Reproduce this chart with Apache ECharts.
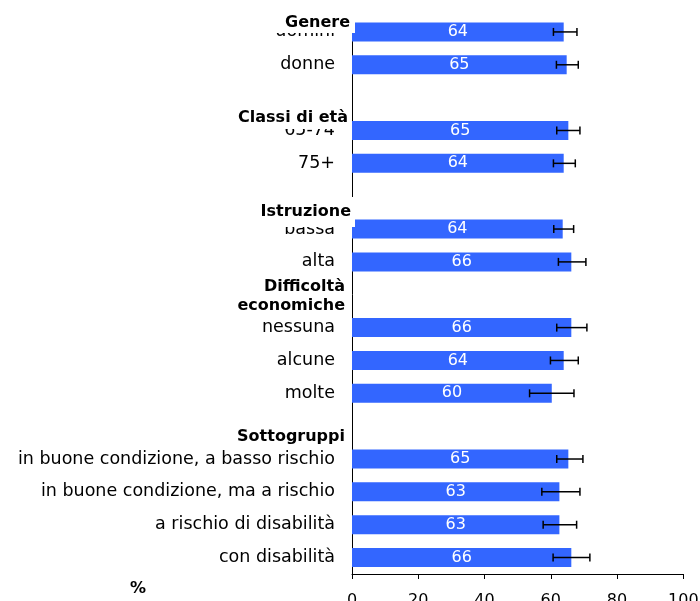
<!DOCTYPE html>
<html>
<head>
<meta charset="utf-8">
<script src="https://cdn.jsdelivr.net/npm/echarts@6/dist/echarts.min.js"></script>
<style>html,body{margin:0;padding:0;background:#fff}#c{width:700px;height:601px}</style>
</head>
<body>
<div id="c"></div>
<script>
const categories = ['uomini','donne','','65-74','75+','','bassa','alta','','nessuna','alcune','molte','',
  'in buone condizione, a basso rischio','in buone condizione, ma a rischio','a rischio di disabilità','con disabilità'];
const values = [63.9, 64.8, null, 65.3, 63.9, null, 63.6, 66.2, null, 66.2, 63.9, 60.3, null, 65.3, 62.6, 62.6, 66.2];
const ciLow  = [60.8, 61.7, null, 61.8, 60.8, null, 60.9, 62.3, null, 61.8, 59.9, 53.6, null, 61.8, 57.3, 57.7, 60.7];
const ciHigh = [67.9, 68.3, null, 68.8, 67.4, null, 66.9, 70.6, null, 70.9, 68.3, 67.0, null, 69.7, 68.8, 67.8, 71.8];
const xTicks = [0, 20, 40, 60, 80, 100];
const headers = ['Genere', 'Classi di età', 'Istruzione', 'Difficoltà\neconomiche', 'Sottogruppi'];
const unitLabel = '%';

const FONT = 'DejaVu Sans';
const chart = echarts.init(document.getElementById('c'), null, {renderer: 'canvas'});

const errData = [];
values.forEach((v, i) => { if (v != null) errData.push([ciLow[i], i, ciHigh[i]]); });

function headerText(text, x, y, pad, bg) {
  return {
    type: 'text', x: x, y: y, z: 100,
    style: {
      text: text, fill: '#000', font: 'bold 16px "' + FONT + '"',
      align: 'right', verticalAlign: 'top', lineHeight: 19.5,
      backgroundColor: bg ? '#fff' : null, padding: pad
    }
  };
}

chart.setOption({
  animation: false,
  backgroundColor: '#fff',
  grid: {left: 352, right: 16.7, top: 15.5, bottom: 27, containLabel: false, outerBoundsMode: 'none'},
  xAxis: {
    type: 'value', min: xTicks[0], max: xTicks[xTicks.length - 1], interval: 20,
    axisLine: {show: true, lineStyle: {color: '#000', width: 1}},
    axisTick: {show: true, length: 5, lineStyle: {color: '#000'}},
    axisLabel: {color: '#000', fontFamily: FONT, fontSize: 16, margin: 19},
    splitLine: {show: false}
  },
  yAxis: {
    type: 'category', inverse: true, data: categories,
    axisLine: {show: true, lineStyle: {color: '#000', width: 1}},
    axisTick: {show: false},
    axisLabel: {color: '#000', fontFamily: FONT, fontSize: 17.5, margin: 17}
  },
  series: [
    {
      type: 'bar', data: values, barWidth: 19,
      itemStyle: {color: '#3366ff'},
      label: {
        show: true, position: 'inside', color: '#fff', fontFamily: FONT, fontSize: 16,
        formatter: p => Math.round(p.value)
      },
      z: 2
    },
    {
      type: 'custom', data: errData, encode: {x: [0, 2], y: 1}, z: 5,
      renderItem: function (params, api) {
        const idx = api.value(1);
        const p1 = api.coord([api.value(0), idx]);
        const p2 = api.coord([api.value(2), idx]);
        const h = 4;
        const st = {stroke: '#000', lineWidth: 1.5};
        return {
          type: 'group', children: [
            {type: 'line', shape: {x1: p1[0], y1: p1[1], x2: p2[0], y2: p2[1]}, style: st},
            {type: 'line', shape: {x1: p1[0], y1: p1[1] - h, x2: p1[0], y2: p1[1] + h}, style: st},
            {type: 'line', shape: {x1: p2[0], y1: p2[1] - h, x2: p2[0], y2: p2[1] + h}, style: st}
          ]
        };
      }
    }
  ],
  graphic: [
    headerText(headers[0], 355, 10.75, [2, 5, 0.75, 16], true),
    headerText(headers[1], 351, 106.25, [2, 3, 1.25, 8], true),
    headerText(headers[2], 355, 197, [4.95, 4, 5.55, 8], true),
    headerText(headers[3], 345, 277, [0, 0, 0, 0], false),
    headerText(headers[4], 345, 427, [0, 0, 0, 0], false),
    {
      type: 'text', x: 138, y: 589, z: 100,
      style: {text: unitLabel, fill: '#000', font: 'bold 16px "' + FONT + '"', align: 'center', verticalAlign: 'middle'}
    }
  ]
});
</script>
</body>
</html>
